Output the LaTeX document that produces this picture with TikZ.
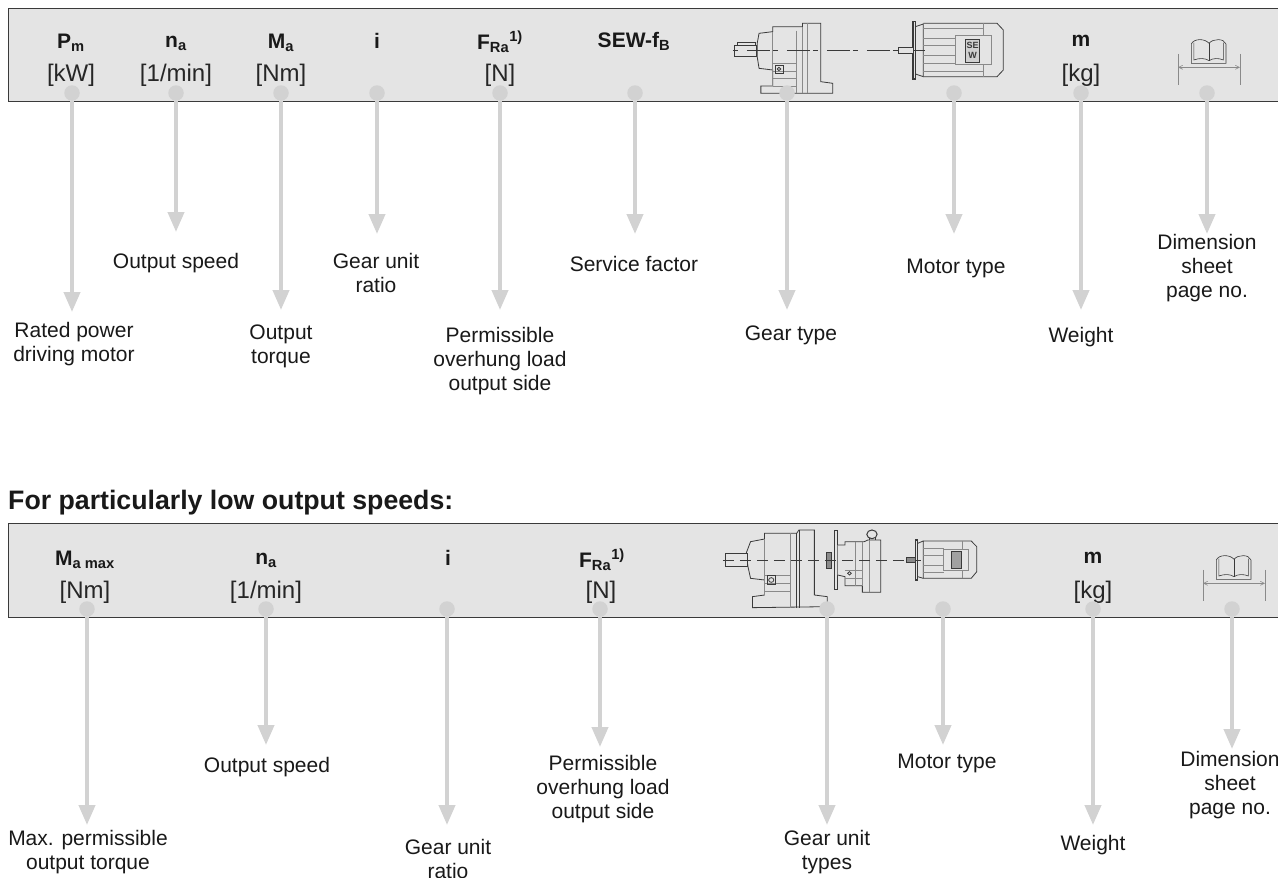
\documentclass[tikz,border=0pt]{standalone}
\usepackage{fontspec}
\setmainfont{Liberation Sans}
\usetikzlibrary{arrows.meta}
\definecolor{bandgray}{HTML}{E4E4E4}
\definecolor{marker}{HTML}{D2D2D2}
\definecolor{linegray}{HTML}{3A3A3A}
\definecolor{softgray}{HTML}{8A8A8A}
\tikzset{
band/.style={fill=bandgray,draw=none},
bandline/.style={draw=linegray,line width=1pt},
dot/.style={circle,fill=marker,minimum size=15.5pt,inner sep=0pt},
callout/.style={draw=marker,line width=4pt,-{Triangle[length=20pt,width=16pt,color=marker]}},
caption/.style={align=center,font=\fontsize{21}{24}\selectfont,text=black!90},
head/.style={font=\fontsize{21}{24}\bfseries\selectfont,text=black!90},
unit/.style={font=\fontsize{24}{26}\selectfont,text=black!85},
art/.style={draw=linegray,line width=0.8pt},
artsoft/.style={draw=softgray,line width=0.8pt},
manualbook/.pic={
\draw[artsoft] (-168,-40) -- (-168,52);
\draw[artsoft] (0,-40) -- (0,52);
\draw[softgray,line width=0.6pt,<->,>={Straight Barb[length=4pt,width=4pt]}] (-168,0) -- (0,0);
\draw[art,line width=0.6pt] (-132,-12) -- (-132,-70) .. controls (-125,-87) and (-95,-87) .. (-84,-72) .. controls (-73,-87) and (-43,-87) .. (-38,-70) -- (-38,-12) -- cycle;
\draw[art,line width=0.6pt] (-84,-72) -- (-84,-20);
\draw[art,line width=0.6pt] (-125,-74) -- (-125,-22) .. controls (-110,-28) and (-95,-28) .. (-84,-20) .. controls (-73,-28) and (-58,-28) .. (-45,-22) -- (-45,-74);
}
}
\begin{document}
\begin{tikzpicture}[x=1pt,y=-1pt]
\useasboundingbox (0,0) rectangle (1278,878);
\fill[white] (0,0) rectangle (1278,878);

\fill[band] (8,8) rectangle (1278,101);
\draw[bandline] (1278,8) -- (8,8) -- (8,101) -- (1278,101);
\fill[band] (8,523) rectangle (1278,617);
\draw[bandline] (1278,523) -- (8,523) -- (8,617) -- (1278,617);

\node[head] (hPm) at (71,43) {P\textsubscript{m}};
\node[unit] (uPm) at (71,75) {[kW]};
\node[head] (hna) at (176,43) {n\textsubscript{a}};
\node[unit] (una) at (176,75) {[1/min]};
\node[head] (hMa) at (281,43) {M\textsubscript{a}};
\node[unit] (uMa) at (281,75) {[Nm]};
\node[head] (hi) at (377,41) {i};
\node[head] (hFRa) at (500,42) {F\textsubscript{Ra}\textsuperscript{1)}};
\node[unit] (uFRa) at (500,75) {[N]};
\node[head] (hfB) at (634,41) {SEW-f\textsubscript{B}};
\node[head] (hm) at (1081,41) {m};
\node[unit] (um) at (1081,75) {[kg]};

\begin{scope}[shift={(700,0)},x=0.369pt,y=-0.3333pt]
\draw[art,fill=bandgray] (155,130) -- (160,100) -- (197,95) -- (197,80) -- (278,80) -- (278,70) -- (327,70) -- (327,245) -- (360,250) -- (360,280) -- (165,280) -- (165,258) -- (197,258) -- (197,210) -- (160,205) -- (155,170) -- cycle;
\draw[art] (92,135) rectangle (152,170);
\draw[art] (100,127) rectangle (150,135);
\draw[artsoft] (197,95) -- (197,258);
\draw[artsoft] (262,92) -- (262,280) (278,80) -- (278,280) (290,70) -- (290,280);
\draw[artsoft] (197,190) -- (262,190) (197,215) -- (262,215) (197,235) -- (262,235) (197,258) -- (262,258);
\draw[art] (205,195) rectangle (225,220);
\draw[art] (214,207) circle[radius=5];
\draw[art,line width=0.7pt,dash pattern=on 23pt off 3pt on 5pt off 9pt,dash phase=26pt] (89,151) -- (610,151);
\draw[art,line width=1.2pt] (577,65) rectangle (584,237);
\draw[art] (584,80) -- (605,72) -- (605,230) -- (584,222);
\draw[art] (605,70) -- (805,70) -- (822,90) -- (822,210) -- (805,230) -- (605,230);
\draw[artsoft] (605,85) -- (768,85) (768,70) -- (768,230) (605,215) -- (768,215);
\draw[artsoft] (605,115) -- (693,115) (605,135) -- (693,135) (605,165) -- (693,165) (605,190) -- (693,190);
\draw[art,fill=bandgray] (538,142) rectangle (577,160);
\draw[artsoft,fill=bandgray] (693,105) rectangle (790,193);
\draw[art,line width=0.6pt,fill=softgray!40] (720,117) rectangle (758,187);
\node[font=\fontsize{9}{10}\bfseries\selectfont,align=center,inner sep=0pt,text=linegray] (logoA) at (739,152) {SE\\W};
\end{scope}
\begin{scope}[shift={(1240,67.3)},x=0.369pt,y=-0.3333pt]
\pic {manualbook};
\end{scope}

\node[dot] (dPm) at (72,93) {};
\node[dot] (dna) at (176,93) {};
\node[dot] (dMa) at (281,93) {};
\node[dot] (di) at (377,93) {};
\node[dot] (dFRa) at (500,93) {};
\node[dot] (dfB) at (635,93) {};
\node[dot] (dgear) at (787,93) {};
\node[dot] (dmotor) at (954,93) {};
\node[dot] (dm) at (1081,93) {};
\node[dot] (dbook) at (1207,93) {};

\coordinate (tPm) at (72,312);
\coordinate (tna) at (176,232);
\coordinate (tMa) at (281,310);
\coordinate (ti) at (377,234);
\coordinate (tFRa) at (500,310);
\coordinate (tfB) at (635,234);
\coordinate (tgear) at (787,310);
\coordinate (tmotor) at (954,234);
\coordinate (tm) at (1081,310);
\coordinate (tbook) at (1207,234);

\draw[callout] (dPm) -- (tPm);
\draw[callout] (dna) -- (tna);
\draw[callout] (dMa) -- (tMa);
\draw[callout] (di) -- (ti);
\draw[callout] (dFRa) -- (tFRa);
\draw[callout] (dfB) -- (tfB);
\draw[callout] (dgear) -- (tgear);
\draw[callout] (dmotor) -- (tmotor);
\draw[callout] (dm) -- (tm);
\draw[callout] (dbook) -- (tbook);

\node[caption] (cPm) at (74,344) {Rated power\\driving motor};
\node[caption] (cna) at (176,263) {Output speed};
\node[caption] (cMa) at (281,346) {Output\\torque};
\node[caption] (ci) at (376,273) {Gear unit\\ratio};
\node[caption] (cFRa) at (500,361) {Permissible\\overhung load\\output side};
\node[caption] (cfB) at (634,264) {Service factor};
\node[caption] (cgear) at (791,335) {Gear type};
\node[caption] (cmotor) at (956,268) {Motor type};
\node[caption] (cm) at (1081,337) {Weight};
\node[caption] (cbook) at (1207,268) {Dimension\\sheet\\page no.};

\node[anchor=base west,inner sep=0pt,font=\fontsize{26.7}{28}\bfseries\selectfont,text=black!90] (title) at (8,509) {For particularly low output speeds:};

\node[head] (hMmax) at (85,560) {M\textsubscript{a max}};
\node[unit] (uMmax) at (85,592) {[Nm]};
\node[head] (hnb) at (266,560) {n\textsubscript{a}};
\node[unit] (unb) at (266,592) {[1/min]};
\node[head] (hib) at (448,558) {i};
\node[head] (hFRb) at (602,560) {F\textsubscript{Ra}\textsuperscript{1)}};
\node[unit] (uFRb) at (601,592) {[N]};
\node[head] (hmb) at (1093,558) {m};
\node[unit] (umb) at (1093,592) {[kg]};

\begin{scope}[shift={(700,515)},x=0.369pt,y=-0.3333pt]
\draw[art,fill=bandgray] (125,115) -- (137,80) -- (175,72) -- (175,55) -- (262,55) -- (268,45) -- (310,45) -- (310,240) -- (345,245) -- (345,275) -- (142,278) -- (142,245) -- (175,240) -- (175,195) -- (137,190) -- (130,155) -- cycle;
\draw[art,fill=bandgray] (68,115) rectangle (128,155);
\draw[artsoft] (175,72) -- (175,240) (245,55) -- (245,278);
\draw[art] (262,55) -- (262,278) (270,45) -- (270,278);
\draw[artsoft] (175,180) -- (245,180) (175,205) -- (245,205) (175,228) -- (245,228);
\draw[art] (182,182) rectangle (204,208);
\draw[art] (193,195) circle[radius=7];
\draw[art,line width=1pt] (365,45) rectangle (373,225);
\draw[art,fill=bandgray] (373,90) -- (393,90) -- (393,80) -- (445,80) -- (455,75) -- (490,75) -- (490,232) -- (440,232) -- (440,212) -- (393,212) -- (393,185) -- (373,180);
\draw[artsoft] (420,80) -- (420,212) (440,80) -- (440,212) (458,75) -- (458,232);
\draw[artsoft] (393,165) -- (440,165) (393,190) -- (440,190);
\draw[art] (405,175) circle[radius=5];
\draw[art,line width=1pt] (466,58) ellipse[x radius=14,y radius=13];
\draw[art] (458,70) -- (458,75) (474,70) -- (474,75);
\draw[art,fill=softgray] (342,112) rectangle (355,160);
\draw[art,line width=0.8pt,dash pattern=on 11pt off 6pt] (62,135) -- (610,135);
\draw[art,line width=1.2pt] (585,75) rectangle (590,195);
\draw[art] (605,78) -- (735,78) -- (750,95) -- (750,170) -- (735,190) -- (605,190) -- cycle;
\draw[art] (590,85) -- (605,78) (590,185) -- (605,190);
\draw[artsoft] (605,100) -- (660,100) (605,120) -- (660,120) (605,150) -- (660,150) (605,172) -- (660,172) (712,78) -- (712,190);
\draw[art,fill=softgray] (558,128) rectangle (585,142);
\draw[artsoft,fill=bandgray] (660,103) rectangle (728,165);
\draw[art,fill=softgray!80] (680,110) rectangle (708,160);
\end{scope}
\begin{scope}[shift={(1265,583.3)},x=0.369pt,y=-0.3333pt]
\pic {manualbook};
\end{scope}

\node[dot] (eMmax) at (87,609) {};
\node[dot] (enb) at (266,609) {};
\node[dot] (eib) at (447,609) {};
\node[dot] (eFRb) at (600,609) {};
\node[dot] (egear) at (827,609) {};
\node[dot] (emotor) at (943,609) {};
\node[dot] (emb) at (1093,609) {};
\node[dot] (ebook) at (1232,609) {};

\coordinate (sMmax) at (87,825);
\coordinate (snb) at (266,745);
\coordinate (sib) at (447,825);
\coordinate (sFRb) at (600,747);
\coordinate (sgear) at (827,825);
\coordinate (smotor) at (943,745);
\coordinate (smb) at (1093,825);
\coordinate (sbook) at (1232,749);

\draw[callout] (eMmax) -- (sMmax);
\draw[callout] (enb) -- (snb);
\draw[callout] (eib) -- (sib);
\draw[callout] (eFRb) -- (sFRb);
\draw[callout] (egear) -- (sgear);
\draw[callout] (emotor) -- (smotor);
\draw[callout] (emb) -- (smb);
\draw[callout] (ebook) -- (sbook);

\node[caption] (kMmax) at (88,852) {Max. permissible\\output torque};
\node[caption] (knb) at (267,767) {Output speed};
\node[caption] (kib) at (448,859) {Gear unit\\ratio};
\node[caption] (kFRb) at (603,789) {Permissible\\overhung load\\output side};
\node[caption] (kgear) at (827,852) {Gear unit\\types};
\node[caption] (kmotor) at (947,763) {Motor type};
\node[caption] (kmb) at (1093,845) {Weight};
\node[caption] (kbook) at (1230,785) {Dimension\\sheet\\page no.};
\end{tikzpicture}
\end{document}
